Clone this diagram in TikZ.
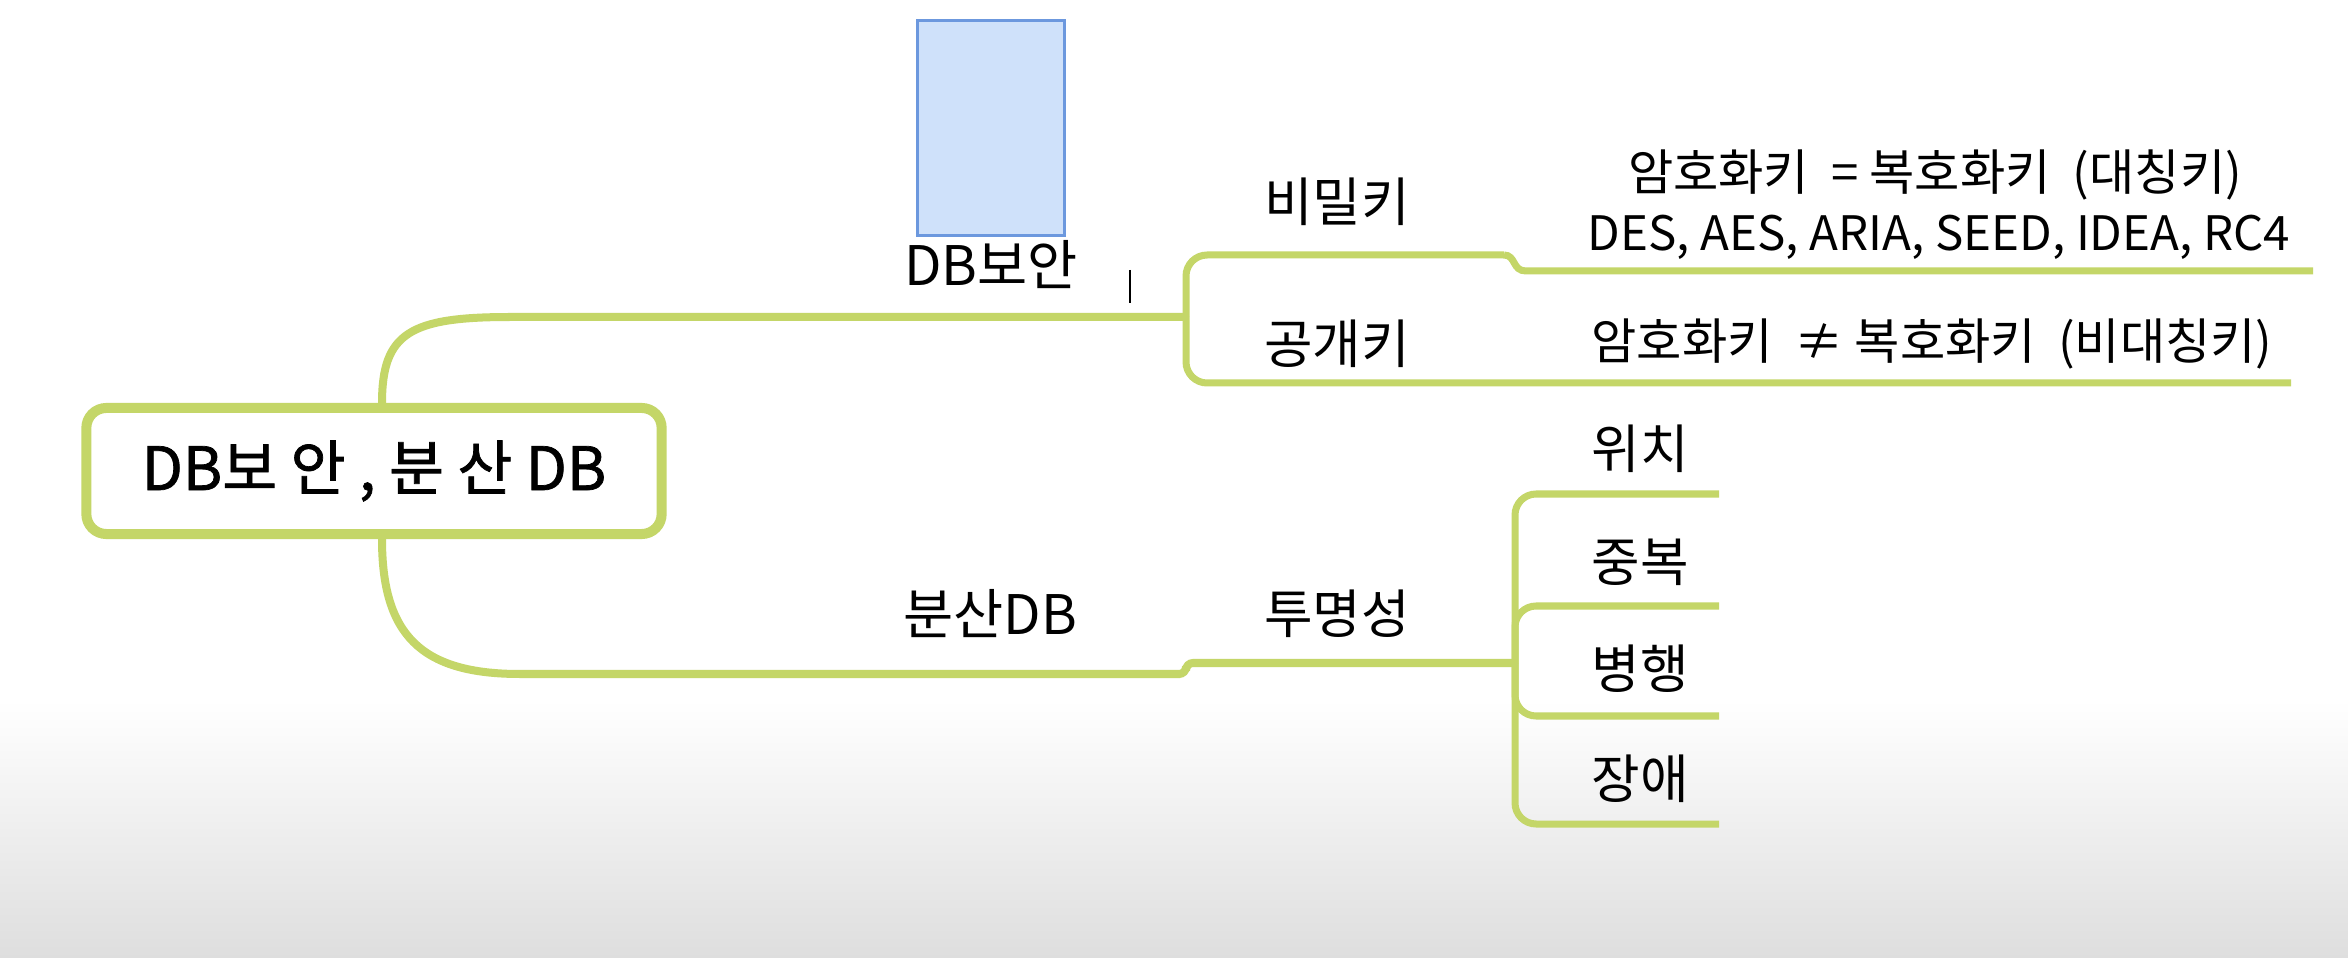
\documentclass[tikz,border=0pt]{standalone}
\usepackage{fontspec}
\setmainfont{Noto Sans CJK KR}
\newfontfamily\rootfont[FakeBold=1.2]{Noto Sans CJK KR}
\definecolor{branch}{RGB}{196,214,104}
\definecolor{memofill}{RGB}{207,225,250}
\definecolor{memoline}{RGB}{108,152,222}
\definecolor{fadegray}{RGB}{222,222,222}
\tikzset{
  mainline/.style={draw=branch, line width=0.08cm},
  subline/.style={draw=branch, line width=0.07cm, rounded corners=6pt},
  rootbox/.style={draw=branch, line width=0.1cm, fill=white, rounded corners=0.2cm,
    minimum width=5.75cm, minimum height=1.26cm, font=\rootfont\fontsize{17}{20}\selectfont},
  topic/.style={font=\fontsize{15.5}{18}\selectfont},
  leaf/.style={font=\fontsize{15}{18}\selectfont},
  note/.style={font=\fontsize{14}{16}\selectfont}
}

\begin{document}
\begin{tikzpicture}[x=0.01cm, y=-0.01cm]
  \useasboundingbox (0,0) rectangle (2348,958);
  \fill[white] (0,0) rectangle (2348,958);
  \shade[top color=white, bottom color=fadegray] (0,700) rectangle (2348,958);

  % junctions
  \coordinate (secJ) at (1186,317);
  \coordinate (disJ) at (1515,663);
  \coordinate (keyStep) at (1504,255);

  % root
  \node[rootbox] (root) at (374,471) {DB보 안 , 분 산 DB};

  % main branches
  \draw[mainline] ([xshift=0.08cm]root.north) .. controls +(0,-70) and (410,317) .. (510,317) -- (secJ);
  \draw[mainline] ([xshift=0.08cm]root.south) .. controls +(0,95) and (420,674) .. (520,674) -- (1180,674)
    [rounded corners=2pt] -- (1186,674) |- (disJ);

  % sub branches of DB security
  \draw[subline] (secJ) |- (keyStep);
  \draw[draw=branch, line width=0.07cm] (keyStep) .. controls (1516,255) and (1512,271) .. (1526,271) -- (2313,271);
  \draw[subline] (secJ) |- (2291,383);

  % sub branches of distributed DB
  \foreach \y in {494,606,716,824}
    \draw[subline] (disJ) |- (1719,\y);

  % memo box
  \node[draw=memoline, fill=memofill, line width=0.03cm, minimum width=1.46cm,
    minimum height=2.15cm] (memo) at (991,128) {};
  \draw[line width=0.02cm] (1130,270) -- (1130,303);

  % labels
  \node[topic] (secLbl) at (991,265) {DB보안};
  \node[topic] (disLbl) at (990,614) {분산DB};
  \node[leaf] (secret) at (1337,202) {비밀키};
  \node[leaf] (public) at (1337,344) {공개키};
  \node[leaf] (transp) at (1337,614) {투명성};
  \node[note] (symm) at (1935,175) {암호화키 \ = 복호화키 \ (대칭키)};
  \node[note, font=\fontsize{13.5}{16}\selectfont] (algo) at (1939,237) {DES, AES, ARIA, SEED, IDEA, RC4};
  \node[note] (asym) at (1932,344) {암호화키 \ ≠ 복호화키 \ (비대칭키)};
  \foreach \name/\txt/\y in {loc/위치/449, dup/중복/562, par/병행/669, fail/장애/779}
    \node[leaf] (\name) at (1640,\y) {\txt};
\end{tikzpicture}
\end{document}
